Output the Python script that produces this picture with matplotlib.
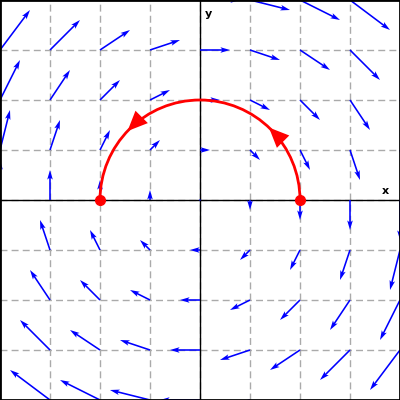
import numpy as np
import matplotlib
matplotlib.use("Agg")
import matplotlib.pyplot as plt
from matplotlib.patches import Arc

# grid of sample points (data units)
xs = [-4, -3, -2, -1, 0, 1, 2, 3, 4]
ys = [-4, -3, -2, -1, 0, 1, 2, 3, 4]

# vector components, one row per y (bottom to top)
u_rows = [
    [-0.8] * 9,
    [-0.6] * 9,
    [-0.4] * 9,
    [-0.2] * 9,
    [0.0] * 9,
    [0.2] * 9,
    [0.4] * 9,
    [0.6] * 9,
    [0.8] * 9,
]
v_row = [0.8, 0.6, 0.4, 0.2, 0.0, -0.2, -0.4, -0.6, -0.8]
v_rows = [v_row] * 9

# red path: half circle from (2, 0) to (-2, 0)
path_radius = 2
path_start_deg = 0
path_end_deg = 180
path_arrow_deg = [45, 135]
path_points_x = [2, -2]
path_points_y = [0, 0]


def main():
    fig = plt.figure(figsize=(4, 4), dpi=100)
    ax = fig.add_axes([0, 0, 1, 1])
    ax.set_xlim(-4, 4)
    ax.set_ylim(-4, 4)
    ax.set_aspect("equal")

    for g in range(-3, 4):
        ax.axvline(g, color="#aaaaaa", lw=1, ls=(0, (5, 3)), zorder=0)
        ax.axhline(g, color="#aaaaaa", lw=1, ls=(0, (5, 3)), zorder=0)
    ax.axvline(0, color="black", lw=1, zorder=1)
    ax.axhline(0, color="black", lw=1, zorder=1)

    X, Y = np.meshgrid(xs, ys)
    U = np.array(u_rows)
    V = np.array(v_rows)
    ax.quiver(X, Y, U, V, angles="xy", scale_units="xy", scale=1,
              color="#0000ff", width=0.004, headwidth=3.5, headlength=6,
              headaxislength=5, zorder=2)

    arc = Arc((0, 0), 2 * path_radius, 2 * path_radius, theta1=path_start_deg,
              theta2=path_end_deg, color="red", lw=2, zorder=3)
    ax.add_patch(arc)
    for deg in path_arrow_deg:
        t = np.deg2rad(deg)
        px, py = path_radius * np.cos(t), path_radius * np.sin(t)
        dx, dy = -np.sin(t) * 0.05, np.cos(t) * 0.05
        ax.annotate("", xy=(px + dx, py + dy), xytext=(px - dx, py - dy),
                    arrowprops=dict(arrowstyle="-|>,head_length=0.8,head_width=0.35",
                                    color="red", lw=0, mutation_scale=18),
                    zorder=4)
    ax.plot(path_points_x, path_points_y, "o", color="red", ms=7, zorder=4)

    ax.text(0.1, 3.72, "y", fontsize=8, fontweight="bold", ha="left", va="center")
    ax.text(3.7, 0.18, "x", fontsize=8, fontweight="bold", ha="center", va="center")

    ax.set_xticks([])
    ax.set_yticks([])
    for s in ax.spines.values():
        s.set_color("black")
        s.set_linewidth(2)

    fig.savefig("out.png", dpi=100)


if __name__ == "__main__":
    main()
